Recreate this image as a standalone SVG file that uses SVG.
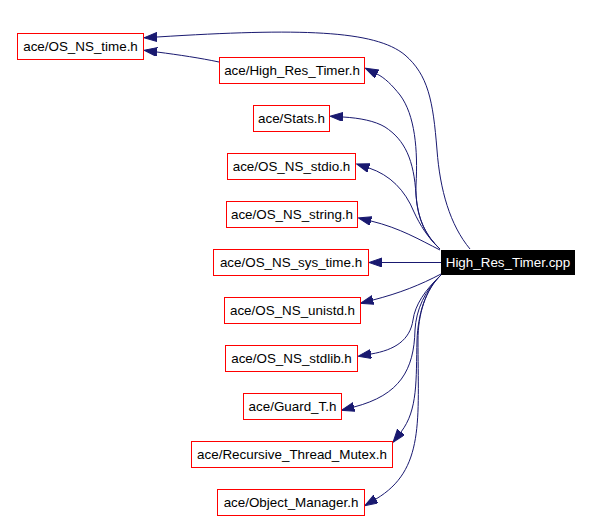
<svg xmlns="http://www.w3.org/2000/svg" width="592" height="520" viewBox="0 0 592 520">
<defs>
<marker id="arr" markerUnits="userSpaceOnUse" markerWidth="14" markerHeight="10" refX="0" refY="4.5" orient="auto">
<path d="M0,0 L13,4.5 L0,9 z" fill="#191970" stroke="#191970" stroke-width="1"/>
</marker>
<style>
.n rect{fill:#fff;stroke:#ff0000;stroke-width:1}
.n text{font-family:"Liberation Sans",Arial,sans-serif;font-size:13.4px;fill:#000;text-anchor:middle}
#n_cpp rect{fill:#000;stroke:#000}
#n_cpp text{fill:#fff}
#edges path{fill:none;stroke:#191970;stroke-width:1;marker-end:url(#arr)}
</style>
</defs>
<rect width="592" height="520" fill="#fff"/>
<g id="edges">
<path d="M470,249 C450,225 440,190 437,150 C433,100 428,75 405,55 C375,30 300,28 157,37"/>
<path d="M219,62 C200,58 180,55 157,52"/>
<path d="M440,249 C425,235 415,215 416,185 C418,150 415,115 400,95 C392,85 385,78 377,74"/>
<path d="M440,249 C425,235 418,220 416,195 C414,160 405,140 385,127 C375,121 360,118 343,117"/>
<path d="M440,249 C428,238 420,225 414,212 C405,190 390,175 369,168"/>
<path d="M440,250 C420,240 400,228 371,221"/>
<path d="M441,262.5 L382,262.5"/>
<path d="M441,274 C420,285 400,293 373,300"/>
<path d="M441,275 C425,290 415,305 413,320 C410,340 395,350 371,354"/>
<path d="M441,275 C425,290 416,310 415,330 C414,370 400,395 354,407"/>
<path d="M441,275 C425,290 418,315 417,340 C416,380 418,410 401,432"/>
<path d="M441,275 C425,290 418,315 418,340 C418,420 425,470 376,499"/>
</g>
<g id="n_cpp" class="n"><rect x="441.5" y="250.5" width="133" height="24"/><text x="508" y="267">High_Res_Timer.cpp</text></g>
<g id="n_os_ns_time" class="n"><rect x="17.5" y="33.5" width="126" height="26"/><text x="80.5" y="51">ace/OS_NS_time.h</text></g>
<g id="n_hrt_h" class="n"><rect x="219.5" y="57.5" width="145" height="26"/><text x="292" y="75">ace/High_Res_Timer.h</text></g>
<g id="n_stats" class="n"><rect x="253.5" y="105.5" width="76" height="26"/><text x="291.5" y="123">ace/Stats.h</text></g>
<g id="n_stdio" class="n"><rect x="227.5" y="153.5" width="128" height="26"/><text x="291.5" y="171">ace/OS_NS_stdio.h</text></g>
<g id="n_string" class="n"><rect x="226.5" y="201.5" width="131" height="26"/><text x="292" y="219">ace/OS_NS_string.h</text></g>
<g id="n_sys_time" class="n"><rect x="213.5" y="249.5" width="155" height="26"/><text x="291" y="267">ace/OS_NS_sys_time.h</text></g>
<g id="n_unistd" class="n"><rect x="224.5" y="297.5" width="136" height="26"/><text x="292.5" y="315">ace/OS_NS_unistd.h</text></g>
<g id="n_stdlib" class="n"><rect x="225.5" y="345.5" width="132" height="26"/><text x="291.5" y="363">ace/OS_NS_stdlib.h</text></g>
<g id="n_guard" class="n"><rect x="243.5" y="393.5" width="98" height="26"/><text x="292.5" y="411">ace/Guard_T.h</text></g>
<g id="n_rtm" class="n"><rect x="191.5" y="441.5" width="201" height="26"/><text x="292" y="459">ace/Recursive_Thread_Mutex.h</text></g>
<g id="n_om" class="n"><rect x="217.5" y="489.5" width="147" height="26"/><text x="291" y="507">ace/Object_Manager.h</text></g>
</svg>
